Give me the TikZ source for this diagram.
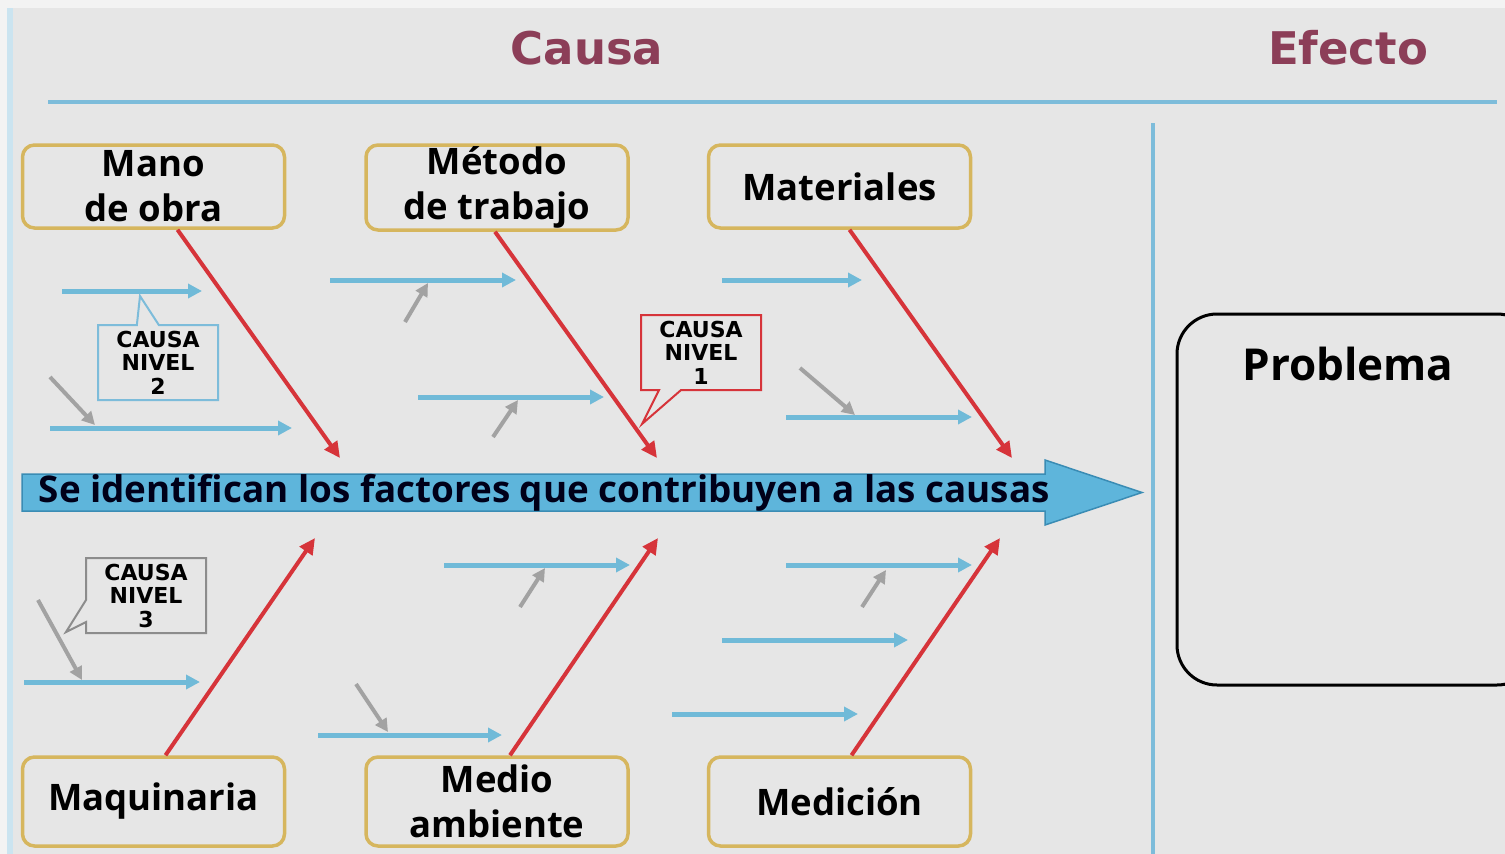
\documentclass[tikz,border=0pt]{standalone}
\usepackage{fontspec}
\setmainfont{Open Sans}
\newfontfamily\titlefont{DejaVu Sans}
\usetikzlibrary{arrows.meta,shapes.callouts}

\definecolor{pagebg}{RGB}{243,243,243}
\definecolor{slidebg}{RGB}{230,230,230}
\definecolor{rulecol}{RGB}{125,188,218}
\definecolor{spinefill}{RGB}{94,181,219}
\definecolor{spineline}{RGB}{58,140,180}
\definecolor{bonered}{RGB}{214,52,58}
\definecolor{subblue}{RGB}{112,186,216}
\definecolor{subgray}{RGB}{162,162,162}
\definecolor{goldline}{RGB}{214,182,94}
\definecolor{titlecol}{RGB}{140,62,88}
\definecolor{calloutgray}{RGB}{140,140,140}

\begin{document}
\begin{tikzpicture}[x=1pt, y=-1pt, thick,
    cause node/.style={rectangle, rounded corners=12pt, draw=goldline, line width=3.5pt,
      fill=slidebg, minimum width=262pt, inner ysep=0pt, align=center,
      font=\fontsize{36.5}{45}\selectfont\bfseries},
    title node/.style={font=\titlefont\fontsize{45}{50}\selectfont\bfseries, text=titlecol},
    level node/.style={rectangle callout, fill=slidebg, line width=2pt, minimum width=120pt,
      minimum height=75pt, inner sep=0pt, callout pointer width=22pt, align=center,
      font=\titlefont\fontsize{22}{23.5}\selectfont\bfseries},
    bone/.style={draw=bonered, line width=4pt, -{Triangle[length=16pt,width=15pt]}},
    sub cause/.style={draw=subblue, line width=5pt, -{Triangle[length=14pt,width=14pt]}},
    sub sub/.style={draw=subgray, line width=4pt, -{Triangle[length=13pt,width=13pt]}}]

  % page and slide
  \useasboundingbox (0,0) rectangle (1505,854);
  \clip (0,0) rectangle (1505,854);
  \fill[pagebg] (0,0) rectangle (1505,854);
  \fill[slidebg] (7,8) rectangle (1505,854);
  \fill[rulecol!40] (7,8) rectangle (13,854);

  % titles
  \node[title node] (causa) at (587,48) {Causa};
  \node[title node] (efecto) at (1348,48) {Efecto};
  \coordinate (ruleL) at (48,102);
  \coordinate (ruleR) at (1497,102);
  \coordinate (sepT) at (1153,123);
  \coordinate (sepB) at (1153,854);
  \draw[rulecol, line width=4pt] (ruleL) -- (ruleR);
  \draw[rulecol, line width=4pt] (sepT) -- (sepB);

  % effect
  \node[rectangle, rounded corners=40pt, draw=black, line width=3pt, minimum width=360pt,
        minimum height=371pt] (problema) at (1357,499.5) {};
  \node[font=\fontsize{44}{46}\selectfont\bfseries] (problematext) at (1348,364) {Problema};

  % spine
  \coordinate (sp1) at (22,474);
  \coordinate (sp2) at (1045,474);
  \coordinate (sp3) at (1045,460);
  \coordinate (tip) at (1142,492.5);
  \coordinate (sp4) at (1045,525);
  \coordinate (sp5) at (1045,511);
  \coordinate (sp6) at (22,511);
  \draw[fill=spinefill, draw=spineline, line width=1.5pt]
    (sp1) -- (sp2) -- (sp3) -- (tip) -- (sp4) -- (sp5) -- (sp6) -- cycle;
  \node[anchor=west, font=\fontsize{36.8}{38}\selectfont\bfseries, text=black!90!blue] (spinetext)
    at (35,493) {Se identifican los factores que contribuyen a las causas};

  % cause boxes
  \node[cause node, minimum height=83pt] (1) at (153.5,186.5) {Mano\\de obra};
  \node[cause node, minimum height=85pt] (2) at (497,187.5) {Método\\de trabajo};
  \node[cause node, minimum height=83pt] (3) at (839.5,186.5) {Materiales};
  \node[cause node, minimum height=89pt] (4) at (153.5,801.5) {Maquinaria};
  \node[cause node, minimum height=89pt] (5) at (497,801.5) {Medio\\ambiente};
  \node[cause node, minimum height=89pt] (6) at (839.5,801.5) {Medición};

  % main bones
  \coordinate (e1) at (340,458);
  \coordinate (e2) at (657,458);
  \coordinate (e3) at (1012,458);
  \coordinate (e4) at (315,538);
  \coordinate (e5) at (658,538);
  \coordinate (e6) at (1000,538);
  \draw[bone] ([xshift=24pt]1.south) -- (e1);
  \draw[bone] ([xshift=-2pt]2.south) -- (e2);
  \draw[bone] ([xshift=10pt]3.south) -- (e3);
  \draw[bone] ([xshift=12pt]4.north) -- (e4);
  \draw[bone] ([xshift=13pt]5.north) -- (e5);
  \draw[bone] ([xshift=12pt]6.north) -- (e6);

  % level 2 causes
  \foreach \i/\xa/\xb/\y in {1/62/202/291, 2/50/292/428, 3/330/516/280, 4/418/604/397,
      5/722/862/280, 6/786/972/417, 7/444/630/565, 8/786/972/565, 9/24/200/682,
      10/722/908/640, 11/318/502/735, 12/672/858/714}{
    \coordinate (s\i a) at (\xa,\y);
    \coordinate (s\i b) at (\xb,\y);
    \draw[sub cause] (s\i a) -- (s\i b);
  }

  % level 3 causes
  \foreach \i/\xa/\ya/\xb/\yb in {1/405/322/428/283, 2/493/437/518/400, 3/50/377/95/425,
      4/800/368/855/415, 5/520/607/545/568, 6/862/607/886/570, 7/38/600/82/680,
      8/356/684/388/732}{
    \coordinate (g\i a) at (\xa,\ya);
    \coordinate (g\i b) at (\xb,\yb);
    \draw[sub sub] (g\i a) -- (g\i b);
  }

  % callouts
  \node[level node, draw=rulecol, callout absolute pointer={(140,296)}] (nivel2)
    at (158,362.5) {CAUSA\\NIVEL\\2};
  \node[level node, draw=bonered, callout absolute pointer={(642,424)}] (nivel1)
    at (701,352.5) {CAUSA\\NIVEL\\1};
  \node[level node, draw=calloutgray, callout absolute pointer={(66,632)}] (nivel3)
    at (146,595.5) {CAUSA\\NIVEL\\3};

\end{tikzpicture}
\end{document}
